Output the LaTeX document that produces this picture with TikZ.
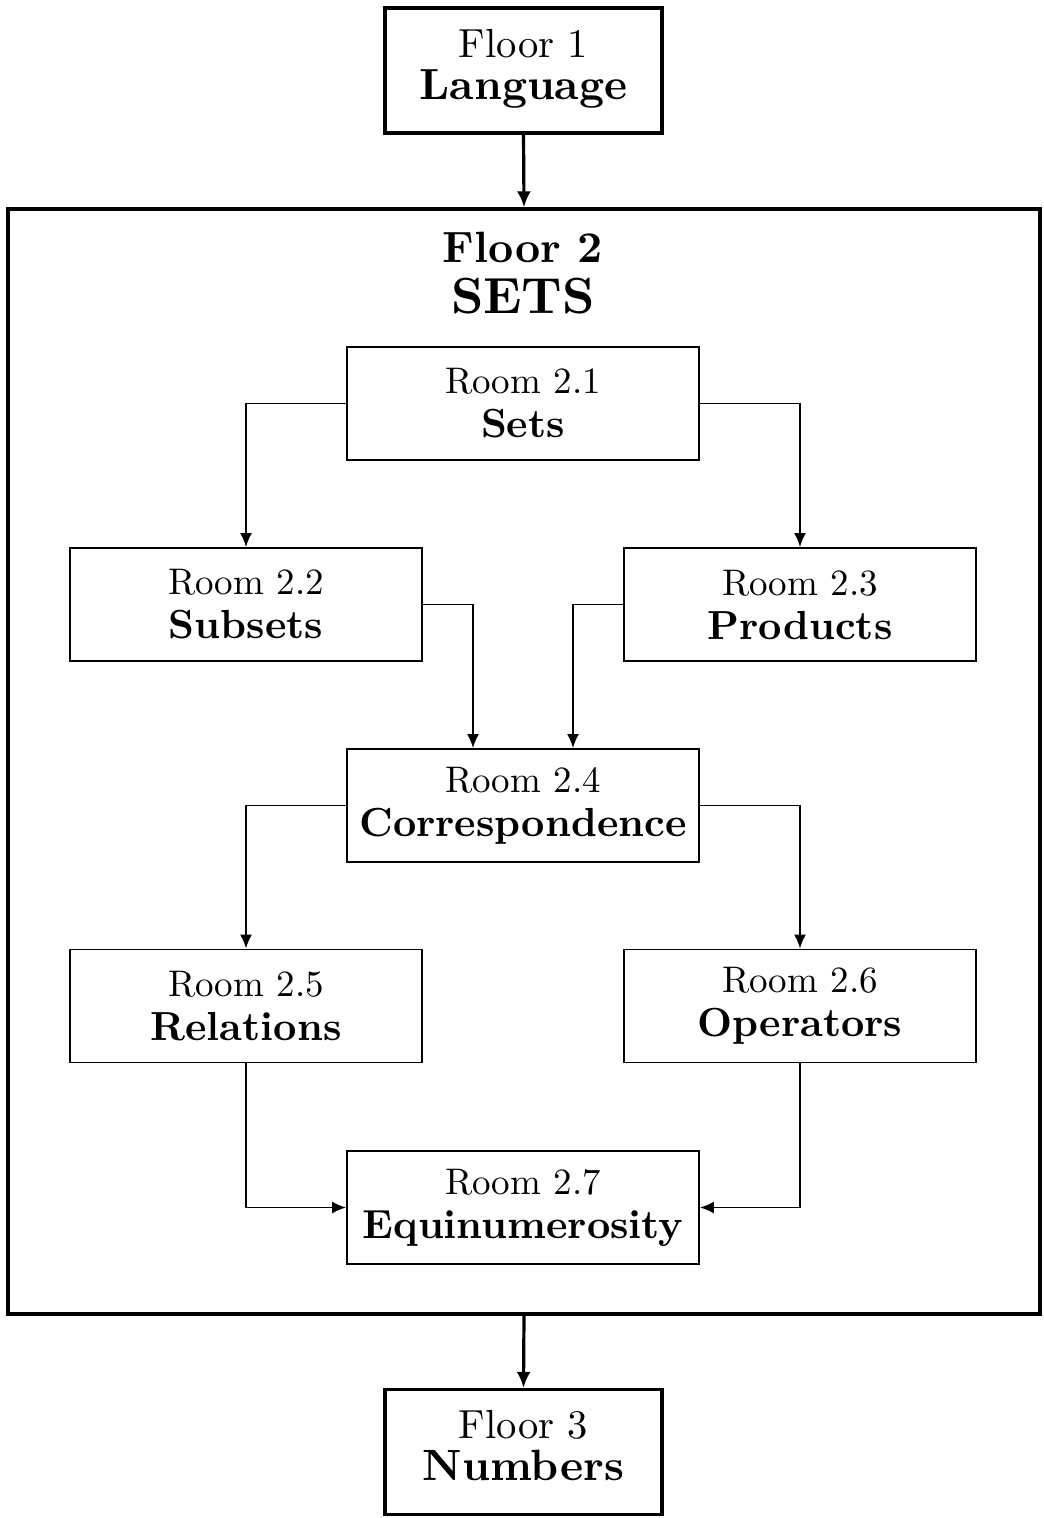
\documentclass[tikz,border=0pt]{standalone}
\usepackage{fontspec}
\newfontfamily\tenrm{lmroman10-regular}[Extension=.otf,BoldFont=lmroman10-bold]
\usetikzlibrary{arrows.meta}
\begin{document}
\begin{tikzpicture}[x=0.5pt,y=-0.5pt,
  room/.style={draw,line width=0.9pt,minimum width=176pt,minimum height=56.5pt,align=center,inner sep=0pt,font=\tenrm\fontsize{18.5}{22}\selectfont},
  floorbox/.style={draw,line width=1.6pt,minimum width=138.5pt,minimum height=62.5pt,align=center,inner sep=0pt,font=\tenrm\fontsize{20.3}{21}\selectfont},
  bigrm/.style={font=\fontsize{21.9}{22}\selectfont},
  conn/.style={line width=0.9pt,-{Latex[length=7pt,width=6pt]}},
  thickconn/.style={line width=1.6pt,-{Latex[length=8pt,width=7pt]}}]
\useasboundingbox (0,0) rectangle (1043,1518);
\node[floorbox,text depth=6pt] (f1) at (523.5,70.5) {Floor 1\\\fontsize{21.8}{21}\selectfont\textbf{Language}};
\node[draw,line width=1.6pt,minimum width=516pt,minimum height=552.5pt,inner sep=0pt] (f2) at (524,761.5) {};
\node[align=center,inner sep=0pt,font=\tenrm] (t2) at (523,273) {\fontsize{21.9}{24}\selectfont\textbf{Floor 2}\\[7pt]\fontsize{25.4}{27}\selectfont\textbf{SETS}};
\node[floorbox,text depth=7pt] (f3) at (523.5,1452) {Floor 3\\\fontsize{21.9}{21}\selectfont\textbf{Numbers}};
\node[room] (r1) at (523,403.5) {Room 2.1\\\fontsize{20.3}{22}\selectfont\textbf{Sets}};
\node[room] (r2) at (246,604.5) {Room 2.2\\\fontsize{20.3}{22}\selectfont\textbf{Subsets}};
\node[room] (r3) at (800,604.5) {Room 2.3\\\fontsize{20.3}{22}\selectfont\textbf{Products}};
\node[room] (r4) at (523,805.5) {Room 2.4\\\fontsize{20.3}{22}\selectfont\textbf{Correspondence}};
\node[room] (r5) at (246,1006) {Room 2.5\\\fontsize{20.3}{22}\selectfont\textbf{Relations}};
\node[room] (r6) at (800,1006) {Room 2.6\\\fontsize{20.3}{22}\selectfont\textbf{Operators}};
\node[room] (r7) at (523,1207.5) {Room 2.7\\\fontsize{20.3}{22}\selectfont\textbf{Equinumerosity}};
\draw[thickconn] (f1.south) -- (f2.north);
\draw[thickconn] (f2.south) -- (f3.north);
\draw[conn] (r1.west) -| (r2.north);
\draw[conn] (r1.east) -| (r3.north);
\draw[conn] (r2.east) -| ([xshift=-25pt]r4.north);
\draw[conn] (r3.west) -| ([xshift=25pt]r4.north);
\draw[conn] (r4.west) -| (r5.north);
\draw[conn] (r4.east) -| (r6.north);
\draw[conn] (r5.south) |- (r7.west);
\draw[conn] (r6.south) |- (r7.east);
\end{tikzpicture}
\end{document}
